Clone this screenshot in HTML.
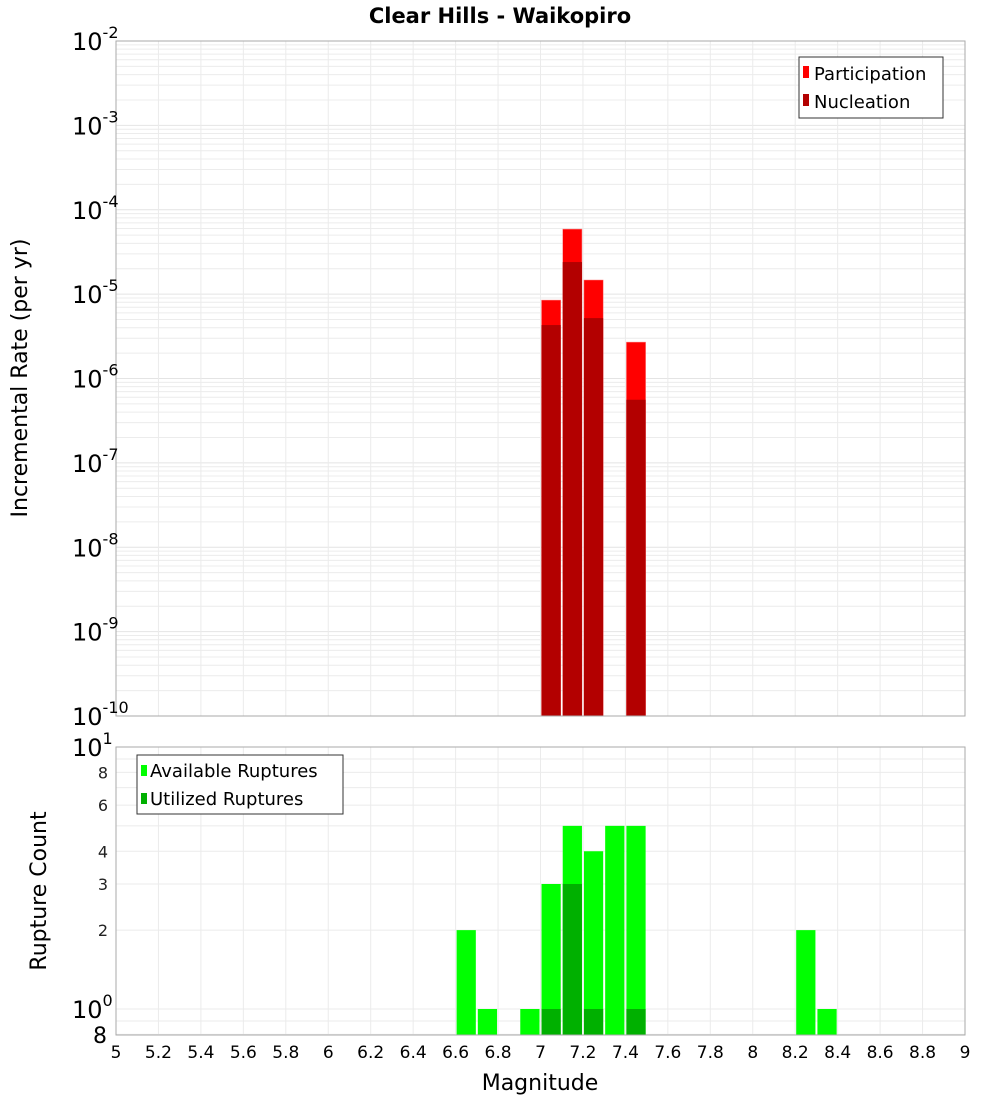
<!DOCTYPE html>
<html><head><meta charset="utf-8"><style>
body{margin:0;background:#fff;}
svg{display:block;font-family:"DejaVu Sans","Liberation Sans",sans-serif;}
</style></head><body>
<svg id="c" width="1000" height="1100" xmlns="http://www.w3.org/2000/svg">
<text x="500" y="23" text-anchor="middle" font-size="21" font-weight="bold">Clear Hills - Waikopiro</text>
<g id="topPanel"></g>
<g id="botPanel"></g>
<text transform="translate(27,378) rotate(-90)" text-anchor="middle" font-size="22">Incremental Rate (per yr)</text>
<text transform="translate(46,891) rotate(-90)" text-anchor="middle" font-size="22">Rupture Count</text>
<text x="540" y="1090" text-anchor="middle" font-size="22">Magnitude</text>
<g>
<rect x="799" y="57" width="144" height="61" fill="#fff" stroke="#333"/>
<rect x="803" y="66" width="6" height="12" fill="#ff0000"/>
<text x="814" y="80" font-size="18">Participation</text>
<rect x="803" y="94" width="6" height="12" fill="#b30000"/>
<text x="814" y="108" font-size="18">Nucleation</text>
</g>
<g>
<rect x="137" y="755" width="206" height="59" fill="#fff" stroke="#333"/>
<rect x="141" y="765" width="6" height="11" fill="#00ff00"/>
<text x="150" y="777" font-size="18">Available Ruptures</text>
<rect x="141" y="793" width="6" height="11" fill="#00b000"/>
<text x="150" y="805" font-size="18">Utilized Ruptures</text>
</g>
</svg>
<script>
const mags = [7.05, 7.15, 7.25, 7.45];
const participation = [8.5e-6, 5.9e-5, 1.47e-5, 2.7e-6];
const nucleation = [4.3e-6, 2.4e-5, 5.2e-6, 5.6e-7];
const countMags = [6.65, 6.75, 6.95, 7.05, 7.15, 7.25, 7.35, 7.45, 8.25, 8.35];
const available = [2, 1, 1, 3, 5, 4, 5, 5, 2, 1];
const utilMags = [7.05, 7.15, 7.25, 7.45];
const utilized = [1, 3, 1, 1];
const xTicks = [5,5.2,5.4,5.6,5.8,6,6.2,6.4,6.6,6.8,7,7.2,7.4,7.6,7.8,8,8.2,8.4,8.6,8.8,9];
const rateExps = [-2,-3,-4,-5,-6,-7,-8,-9,-10];
const countTicks = [8,6,4,3,2];

const NS="http://www.w3.org/2000/svg";
const X0=116,X1=965;
const xs=m=>X0+(m-5)/4*(X1-X0);
const TY0=41,TY1=716;
const ty=v=>TY0+(-2-Math.log10(v))/8*(TY1-TY0);
const BY0=747,BY1=1035;
const byv=v=>BY0+(1-Math.log10(v))*262;
function el(p,t,a,txt){const e=document.createElementNS(NS,t);for(const k in a)e.setAttribute(k,a[k]);if(txt!=null)e.textContent=txt;p.appendChild(e);return e;}
const topG=document.getElementById('topPanel'),botG=document.getElementById('botPanel'),svgEl=document.getElementById('c');
for(let d=-10;d<-2;d++)for(let k=1;k<10;k++){const y=ty(k*Math.pow(10,d));const g=el(topG,'line',{x1:X0,x2:X1,y1:y,y2:y,stroke:k==1?'#e4e4e4':'#ececec','stroke-width':1});

}
xTicks.forEach(m=>{const x=xs(m);el(topG,'line',{x1:x,x2:x,y1:TY0,y2:TY1,stroke:'#ebebeb'});el(botG,'line',{x1:x,x2:x,y1:BY0,y2:BY1,stroke:'#ebebeb'});});
for(const v of [0.8,0.9,1,2,3,4,5,6,7,8,9]){const y=byv(v);el(botG,'line',{x1:X0,x2:X1,y1:y,y2:y,stroke:'#ebebeb'});}
mags.forEach((m,i)=>{const x=xs(m-0.05)+1,w=xs(m+0.05)-xs(m-0.05)-2;
const p=el(topG,'rect',{x:x,y:ty(participation[i]),width:w,height:TY1-ty(participation[i]),fill:'#ff0000',stroke:'#ff8080','stroke-width':0.5});


const n=el(topG,'rect',{x:x,y:ty(nucleation[i]),width:w,height:TY1-ty(nucleation[i]),fill:'#b30000'});

});
el(topG,'rect',{x:X0,y:TY0,width:X1-X0,height:TY1-TY0,fill:'none',stroke:'#aaa'});
countMags.forEach((m,i)=>{const x=xs(m-0.05)+1,w=xs(m+0.05)-xs(m-0.05)-2;
const r=el(botG,'rect',{x:x,y:byv(available[i]),width:w,height:BY1-byv(available[i]),fill:'#00ff00'});

});
utilMags.forEach((m,i)=>{const x=xs(m-0.05)+1,w=xs(m+0.05)-xs(m-0.05)-2;
const r=el(botG,'rect',{x:x,y:byv(utilized[i]),width:w,height:BY1-byv(utilized[i]),fill:'#00b000'});

});
el(botG,'rect',{x:X0,y:BY0,width:X1-X0,height:BY1-BY0,fill:'none',stroke:'#aaa'});
xTicks.forEach(m=>{const t=el(svgEl,'text',{x:xs(m),y:1058,'text-anchor':'middle','font-size':17},String(m));

});
rateExps.forEach(e=>{const y=ty(Math.pow(10,e));const t=el(svgEl,'text',{x:72,y:y+9,'font-size':24});
el(t,'tspan',{},'10');el(t,'tspan',{dy:-12,'font-size':16},String(e));

});
[[10,'1'],[1,'0']].forEach(([v,e])=>{const y=byv(v);const t=el(svgEl,'text',{x:72,y:y+9,'font-size':24});
el(t,'tspan',{},'10');el(t,'tspan',{dy:-12,'font-size':16},e);

});
countTicks.forEach(v=>{const t=el(svgEl,'text',{x:108,y:byv(v)+6,'text-anchor':'end','font-size':16,fill:'#222'},String(v));

});
const t8=el(svgEl,'text',{x:107,y:1043,'text-anchor':'end','font-size':22},'8');


</script>
</body></html>
